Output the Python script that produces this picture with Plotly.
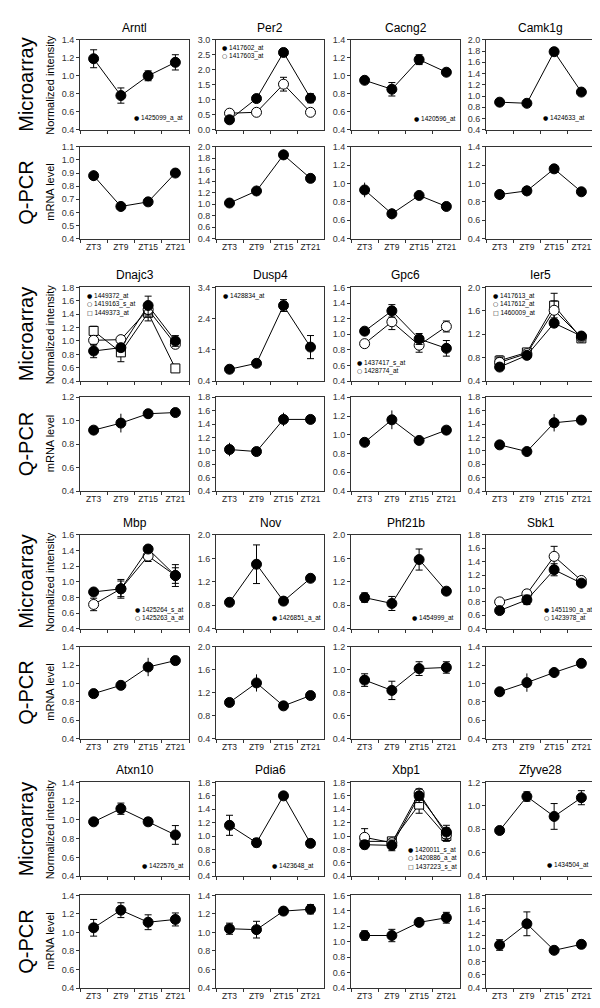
import plotly.graph_objects as go

zt = ["ZT3", "ZT9", "ZT15", "ZT21"]
genes = ["Arntl", "Per2", "Cacng2", "Camk1g",
         "Dnajc3", "Dusp4", "Gpc6", "Ier5",
         "Mbp", "Nov", "Phf21b", "Sbk1",
         "Atxn10", "Pdia6", "Xbp1", "Zfyve28"]

# ---- Microarray probe sets, values (normalized intensity) and errors ----
arntl_ids = ["1425099_a_at"]
arntl_ma = [[1.19, 0.78, 1.00, 1.15]]
arntl_ma_err = [[0.10, 0.085, 0.055, 0.085]]
per2_ids = ["1417602_at", "1417603_at"]
per2_ma = [[0.33, 1.04, 2.58, 1.05], [0.55, 0.58, 1.52, 0.58]]
per2_ma_err = [[0.07, 0.04, 0.12, 0.15], [0.03, 0.03, 0.23, 0.05]]
cacng2_ids = ["1420596_at"]
cacng2_ma = [[0.95, 0.85, 1.18, 1.04]]
cacng2_ma_err = [[0.02, 0.075, 0.055, 0.02]]
camk1g_ids = ["1424633_at"]
camk1g_ma = [[0.89, 0.87, 1.79, 1.07]]
camk1g_ma_err = [[0.05, 0.03, 0.06, 0.03]]
dnajc3_ids = ["1449372_at", "1419163_s_at", "1449373_at"]
dnajc3_ma = [[0.85, 0.90, 1.53, 1.00], [1.01, 1.02, 1.47, 0.95], [1.15, 0.83, 1.42, 0.59]]
dnajc3_ma_err = [[0.10, 0.05, 0.14, 0.08], [0.07, 0.05, 0.10, 0.05], [0.07, 0.14, 0.12, 0.06]]
dusp4_ids = ["1428834_at"]
dusp4_ma = [[0.78, 0.97, 2.82, 1.49]]
dusp4_ma_err = [[0.06, 0.05, 0.19, 0.37]]
gpc6_ids = ["1437417_s_at", "1428774_at"]
gpc6_ma = [[1.04, 1.30, 0.94, 0.82], [0.88, 1.16, 0.86, 1.10]]
gpc6_ma_err = [[0.03, 0.08, 0.07, 0.10], [0.03, 0.10, 0.09, 0.07]]
ier5_ids = ["1417613_at", "1417612_at", "1460009_at"]
ier5_ma = [[0.64, 0.84, 1.39, 1.17], [0.72, 0.87, 1.61, 1.15], [0.75, 0.89, 1.69, 1.13]]
ier5_ma_err = [[0.05, 0.05, 0.05, 0.05], [0.08, 0.06, 0.16, 0.05], [0.08, 0.06, 0.21, 0.07]]
mbp_ids = ["1425264_s_at", "1425263_a_at"]
mbp_ma = [[0.87, 0.91, 1.42, 1.08], [0.71, 0.91, 1.33, 1.08]]
mbp_ma_err = [[0.03, 0.12, 0.03, 0.14], [0.08, 0.10, 0.07, 0.10]]
nov_ids = ["1426851_a_at"]
nov_ma = [[0.85, 1.50, 0.87, 1.26]]
nov_ma_err = [[0.06, 0.33, 0.04, 0.03]]
phf21b_ids = ["1454999_at"]
phf21b_ma = [[0.93, 0.83, 1.58, 1.04]]
phf21b_ma_err = [[0.08, 0.12, 0.18, 0.03]]
sbk1_ids = ["1451190_a_at", "1423978_at"]
sbk1_ma = [[0.67, 0.83, 1.28, 1.08], [0.80, 0.92, 1.48, 1.12]]
sbk1_ma_err = [[0.04, 0.07, 0.09, 0.04], [0.03, 0.03, 0.15, 0.04]]
atxn10_ids = ["1422576_at"]
atxn10_ma = [[0.98, 1.12, 0.98, 0.84]]
atxn10_ma_err = [[0.02, 0.06, 0.04, 0.10]]
pdia6_ids = ["1423648_at"]
pdia6_ma = [[1.16, 0.90, 1.60, 0.89]]
pdia6_ma_err = [[0.15, 0.06, 0.03, 0.05]]
xbp1_ids = ["1420011_s_at", "1420886_a_at", "1437223_s_at"]
xbp1_ma = [[0.87, 0.86, 1.60, 1.06], [0.98, 0.90, 1.64, 1.02], [0.92, 0.92, 1.47, 1.00]]
xbp1_ma_err = [[0.06, 0.08, 0.10, 0.10], [0.13, 0.05, 0.06, 0.10], [0.05, 0.04, 0.13, 0.05]]
zfyve28_ids = ["1434504_at"]
zfyve28_ma = [[0.79, 1.08, 0.91, 1.07]]
zfyve28_ma_err = [[0.02, 0.04, 0.11, 0.06]]

# ---- Q-PCR values (mRNA level) and errors ----
arntl_pcr = [0.88, 0.645, 0.68, 0.90]
arntl_pcr_err = [0.04, 0.04, 0.03, 0.03]
per2_pcr = [1.02, 1.23, 1.86, 1.45]
per2_pcr_err = [0.03, 0.09, 0.09, 0.03]
cacng2_pcr = [0.93, 0.67, 0.87, 0.75]
cacng2_pcr_err = [0.08, 0.06, 0.03, 0.04]
camk1g_pcr = [0.88, 0.92, 1.16, 0.91]
camk1g_pcr_err = [0.06, 0.06, 0.05, 0.03]
dnajc3_pcr = [0.92, 0.98, 1.06, 1.07]
dnajc3_pcr_err = [0.02, 0.08, 0.04, 0.03]
dusp4_pcr = [1.02, 0.99, 1.47, 1.47]
dusp4_pcr_err = [0.10, 0.05, 0.10, 0.05]
gpc6_pcr = [0.92, 1.16, 0.94, 1.05]
gpc6_pcr_err = [0.03, 0.10, 0.03, 0.02]
ier5_pcr = [1.09, 0.99, 1.42, 1.46]
ier5_pcr_err = [0.05, 0.05, 0.13, 0.03]
mbp_pcr = [0.89, 0.98, 1.18, 1.25]
mbp_pcr_err = [0.03, 0.03, 0.10, 0.02]
nov_pcr = [1.03, 1.37, 0.97, 1.15]
nov_pcr_err = [0.05, 0.15, 0.03, 0.03]
phf21b_pcr = [0.91, 0.82, 1.01, 1.02]
phf21b_pcr_err = [0.055, 0.08, 0.06, 0.05]
sbk1_pcr = [0.91, 1.01, 1.12, 1.22]
sbk1_pcr_err = [0.02, 0.10, 0.06, 0.02]
atxn10_pcr = [1.05, 1.24, 1.11, 1.14]
atxn10_pcr_err = [0.09, 0.08, 0.08, 0.07]
pdia6_pcr = [1.04, 1.03, 1.23, 1.25]
pdia6_pcr_err = [0.06, 0.09, 0.03, 0.05]
xbp1_pcr = [1.08, 1.08, 1.25, 1.31]
xbp1_pcr_err = [0.06, 0.08, 0.03, 0.07]
zfyve28_pcr = [1.05, 1.37, 0.97, 1.06]
zfyve28_pcr_err = [0.08, 0.18, 0.03, 0.05]

# ---- axis ranges / tick steps ----
ma_ranges = [(0.4, 1.4, 0.2), (0.0, 3.0, 0.5), (0.4, 1.4, 0.2), (0.4, 2.0, 0.2),
             (0.4, 1.8, 0.2), (0.4, 3.4, 1.0), (0.4, 1.6, 0.2), (0.4, 2.0, 0.4),
             (0.4, 1.6, 0.2), (0.4, 2.0, 0.4), (0.4, 2.0, 0.4), (0.4, 1.8, 0.2),
             (0.4, 1.4, 0.2), (0.4, 1.8, 0.2), (0.4, 1.8, 0.2), (0.4, 1.2, 0.2)]
pcr_ranges = [(0.4, 1.1, 0.1), (0.4, 2.0, 0.2), (0.4, 1.4, 0.2), (0.4, 1.4, 0.2),
              (0.4, 1.2, 0.2), (0.4, 1.8, 0.2), (0.4, 1.4, 0.2), (0.4, 1.8, 0.2),
              (0.4, 1.4, 0.2), (0.4, 2.0, 0.4), (0.4, 1.2, 0.2), (0.4, 1.4, 0.2),
              (0.4, 1.4, 0.2), (0.4, 1.4, 0.2), (0.4, 1.6, 0.2), (0.4, 1.8, 0.2)]

data = {
    "Arntl": (arntl_ids, arntl_ma, arntl_ma_err, arntl_pcr, arntl_pcr_err),
    "Per2": (per2_ids, per2_ma, per2_ma_err, per2_pcr, per2_pcr_err),
    "Cacng2": (cacng2_ids, cacng2_ma, cacng2_ma_err, cacng2_pcr, cacng2_pcr_err),
    "Camk1g": (camk1g_ids, camk1g_ma, camk1g_ma_err, camk1g_pcr, camk1g_pcr_err),
    "Dnajc3": (dnajc3_ids, dnajc3_ma, dnajc3_ma_err, dnajc3_pcr, dnajc3_pcr_err),
    "Dusp4": (dusp4_ids, dusp4_ma, dusp4_ma_err, dusp4_pcr, dusp4_pcr_err),
    "Gpc6": (gpc6_ids, gpc6_ma, gpc6_ma_err, gpc6_pcr, gpc6_pcr_err),
    "Ier5": (ier5_ids, ier5_ma, ier5_ma_err, ier5_pcr, ier5_pcr_err),
    "Mbp": (mbp_ids, mbp_ma, mbp_ma_err, mbp_pcr, mbp_pcr_err),
    "Nov": (nov_ids, nov_ma, nov_ma_err, nov_pcr, nov_pcr_err),
    "Phf21b": (phf21b_ids, phf21b_ma, phf21b_ma_err, phf21b_pcr, phf21b_pcr_err),
    "Sbk1": (sbk1_ids, sbk1_ma, sbk1_ma_err, sbk1_pcr, sbk1_pcr_err),
    "Atxn10": (atxn10_ids, atxn10_ma, atxn10_ma_err, atxn10_pcr, atxn10_pcr_err),
    "Pdia6": (pdia6_ids, pdia6_ma, pdia6_ma_err, pdia6_pcr, pdia6_pcr_err),
    "Xbp1": (xbp1_ids, xbp1_ma, xbp1_ma_err, xbp1_pcr, xbp1_pcr_err),
    "Zfyve28": (zfyve28_ids, zfyve28_ma, zfyve28_ma_err, zfyve28_pcr, zfyve28_pcr_err),
}

# ---- layout (pixel geometry) ----
W, H = 600, 1008
cols_px = [(72, 181), (208, 316), (343, 452), (478, 587)]
ma_rows_px = [(27, 118), (277, 372), (527, 622), (777, 872)]
pcr_rows_px = [(135, 228), (388, 483), (640, 733), (891, 985)]
title_y_px = [15, 265, 515, 765]
# legend placement: (x in frame, y in frame, anchor)
legend_pos = [(0.48, 0.06, "bottom"), (0.04, 0.97, "top"), (0.56, 0.05, "bottom"), (0.5, 0.06, "bottom"),
              (0.05, 0.97, "top"), (0.05, 0.97, "top"), (0.04, 0.05, "bottom"), (0.05, 0.97, "top"),
              (0.49, 0.05, "bottom"), (0.5, 0.05, "bottom"), (0.54, 0.05, "bottom"), (0.51, 0.05, "bottom"),
              (0.55, 0.05, "bottom"), (0.5, 0.05, "bottom"), (0.5, 0.04, "bottom"), (0.54, 0.06, "bottom")]
pcr_caps_rows = [3]
pcr_caps_genes = ["Phf21b"]
symbols = [("circle", "black", "●"), ("circle", "white", "○"), ("square", "white", "□")]

FONT = "Arial, Liberation Sans, Helvetica, sans-serif"
fig = go.Figure()
layout = {}
annotations = []


def xd(px):
    return [px[0] / W, px[1] / W]


def yd(px):
    return [1 - px[1] / H, 1 - px[0] / H]


def axes(n, xdom, ydom, rng, show_x_labels):
    lo, hi, step = rng
    eps = (hi - lo) * 0.002
    sfx = "" if n == 1 else str(n)
    layout["xaxis" + sfx] = dict(
        domain=xdom, anchor="y" + sfx, type="category", categoryorder="array",
        categoryarray=zt, range=[-0.5, 3.5], tickson="boundaries", ticks="outside",
        ticklen=3, tickcolor="#333", showticklabels=show_x_labels, tickangle=0,
        tickfont=dict(size=8.5, color="#222", family=FONT), showline=True, mirror=True,
        linecolor="#333", linewidth=1, showgrid=False, zeroline=False, fixedrange=True)
    layout["yaxis" + sfx] = dict(
        domain=ydom, anchor="x" + sfx, range=[lo - eps, hi + eps], tick0=lo, dtick=step,
        tickformat=".1f", ticks="outside", ticklen=3, tickcolor="#333",
        tickfont=dict(size=9, color="#333", family=FONT), showline=True, mirror=True,
        linecolor="#333", linewidth=1, showgrid=False, zeroline=False, fixedrange=True)
    return "x" + sfx, "y" + sfx


n = 0
for gi, gene in enumerate(genes):
    grp, col = divmod(gi, 4)
    ids, ma, ma_err, pcr, pcr_err = data[gene]
    xdom = xd(cols_px[col])
    # microarray panel
    n += 1
    xa, ya = axes(n, xdom, yd(ma_rows_px[grp]), ma_ranges[gi], False)
    order = list(range(len(ids)))[::-1]
    for si in order:
        sym, fill, _ = symbols[si]
        fig.add_trace(go.Scatter(
            x=zt, y=ma[si], xaxis=xa, yaxis=ya, mode="lines+markers", showlegend=False,
            line=dict(color="black", width=1),
            marker=dict(symbol=sym, size=10 if sym == "circle" else 9, color=fill,
                        line=dict(color="black", width=1)),
            error_y=dict(type="data", array=ma_err[si], color="black", thickness=1, width=3.5)))
    lx, ly, anc = legend_pos[gi]
    txt = "<br>".join(
        '<span style="font-family:DejaVu Sans;font-size:6px;fill:#000">' + symbols[i][2]
        + '</span><span style="fill:#000"> ' + ids[i] + "</span>"
        for i in range(len(ids)))
    annotations.append(dict(
        text=txt, xref=xa + " domain", yref=ya + " domain", x=lx, y=ly,
        xanchor="left", yanchor=anc, align="left", showarrow=False,
        font=dict(size=6.5, color="#000000", family=FONT)))
    annotations.append(dict(
        text=gene, xref="paper", yref="paper", x=sum(xdom) / 2, y=1 - title_y_px[grp] / H,
        xanchor="center", yanchor="middle", showarrow=False,
        font=dict(size=12, color="black", family=FONT)))
    # Q-PCR panel
    n += 1
    xa, ya = axes(n, xdom, yd(pcr_rows_px[grp]), pcr_ranges[gi], True)
    caps = grp in pcr_caps_rows or gene in pcr_caps_genes
    fig.add_trace(go.Scatter(
        x=zt, y=pcr, xaxis=xa, yaxis=ya, mode="lines+markers", showlegend=False,
        line=dict(color="black", width=1),
        marker=dict(symbol="circle", size=10, color="black", line=dict(color="black", width=1)),
        error_y=dict(type="data", array=pcr_err, color="black", thickness=1,
                     width=3.5 if caps else 0)))

# row labels
for grp in range(4):
    for rows, big, small in ((ma_rows_px, "Microarray", "Normalized intensity"),
                             (pcr_rows_px, "Q-PCR", "mRNA level")):
        yc = 1 - (rows[grp][0] + rows[grp][1]) / 2 / H
        annotations.append(dict(text=big, xref="paper", yref="paper", x=18 / W, y=yc,
                                textangle=-90, showarrow=False, xanchor="center", yanchor="middle",
                                font=dict(size=20, color="black", family=FONT)))
        annotations.append(dict(text=small, xref="paper", yref="paper", x=42 / W, y=yc,
                                textangle=-90, showarrow=False, xanchor="center", yanchor="middle",
                                font=dict(size=11, color="black", family=FONT)))

fig.update_layout(width=W, height=H, margin=dict(l=0, r=0, t=0, b=0),
                  paper_bgcolor="white", plot_bgcolor="white", annotations=annotations,
                  font=dict(family=FONT), **layout)
fig.write_html("out.html")
